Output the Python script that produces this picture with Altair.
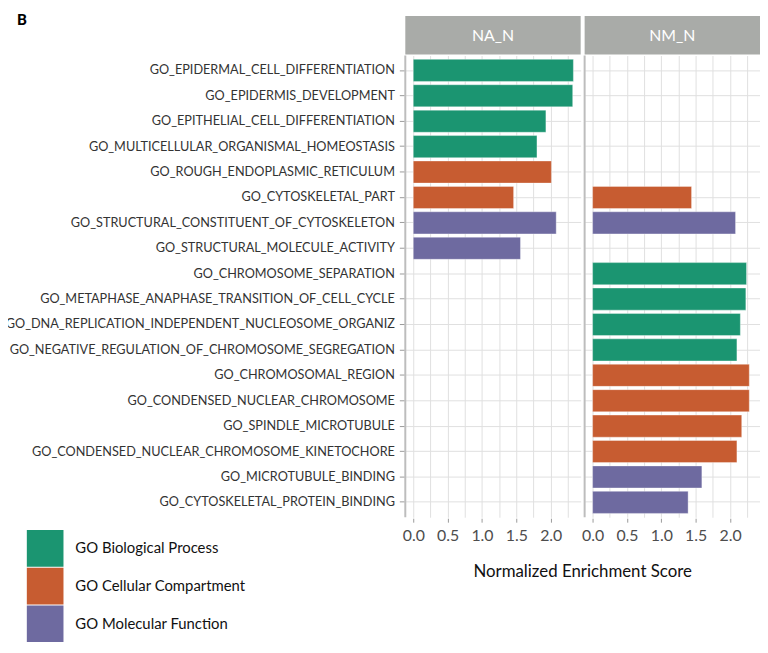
import altair as alt
import pandas as pd

terms = [
    "GO_EPIDERMAL_CELL_DIFFERENTIATION",
    "GO_EPIDERMIS_DEVELOPMENT",
    "GO_EPITHELIAL_CELL_DIFFERENTIATION",
    "GO_MULTICELLULAR_ORGANISMAL_HOMEOSTASIS",
    "GO_ROUGH_ENDOPLASMIC_RETICULUM",
    "GO_CYTOSKELETAL_PART",
    "GO_STRUCTURAL_CONSTITUENT_OF_CYTOSKELETON",
    "GO_STRUCTURAL_MOLECULE_ACTIVITY",
    "GO_CHROMOSOME_SEPARATION",
    "GO_METAPHASE_ANAPHASE_TRANSITION_OF_CELL_CYCLE",
    "GO_DNA_REPLICATION_INDEPENDENT_NUCLEOSOME_ORGANIZ",
    "GO_NEGATIVE_REGULATION_OF_CHROMOSOME_SEGREGATION",
    "GO_CHROMOSOMAL_REGION",
    "GO_CONDENSED_NUCLEAR_CHROMOSOME",
    "GO_SPINDLE_MICROTUBULE",
    "GO_CONDENSED_NUCLEAR_CHROMOSOME_KINETOCHORE",
    "GO_MICROTUBULE_BINDING",
    "GO_CYTOSKELETAL_PROTEIN_BINDING",
]
BP, CC, MF = "GO Biological Process", "GO Cellular Compartment", "GO Molecular Function"
term_category = [BP, BP, BP, BP, CC, CC, MF, MF, BP, BP, BP, BP, CC, CC, CC, CC, MF, MF]
na_n = [2.33, 2.32, 1.93, 1.80, 2.01, 1.46, 2.08, 1.56,
        None, None, None, None, None, None, None, None, None, None]
nm_n = [None, None, None, None, None, 1.44, 2.08, None,
        2.24, 2.23, 2.15, 2.10, 2.28, 2.28, 2.17, 2.10, 1.59, 1.39]
panels = ["NA_N", "NM_N"]
cat_domain = [BP, CC, MF]
cat_colors = ["#1b9571", "#c75c31", "#6e6aa0"]

rows = []
for panel, vals in zip(panels, [na_n, nm_n]):
    for t, c, v in zip(terms, term_category, vals):
        if v is not None:
            rows.append({"term": t, "category": c, "panel": panel, "nes": v})
df = pd.DataFrame(rows)

W, H = 177, 466
FONT = "Lato"
grid_vals = [i * 0.25 for i in range(0, 10)]

bars = alt.Chart().mark_bar(stroke="white", strokeWidth=0.6, strokeOpacity=0.6).encode(
    x=alt.X("nes:Q",
            scale=alt.Scale(domain=[-0.116, 2.436], nice=False, zero=False),
            axis=alt.Axis(values=grid_vals, grid=True, gridColor="#e0e0e0",
                          labelExpr="datum.value % 0.5 == 0 ? format(datum.value, '.1f') : ''",
                          labelOverlap=False, labelFontSize=16, labelColor="#4d4d4d",
                          labelFont=FONT, labelPadding=6, domain=False, tickColor="#9a9a9a",
                          tickSize=4,
                          tickOpacity=alt.ExprRef("datum.value % 0.5 == 0 ? 1 : 0"),
                          title=None)),
    x2=alt.datum(0),
    y=alt.Y("term:N", sort=terms,
            scale=alt.Scale(domain=terms, paddingInner=0.13, paddingOuter=0.15),
            axis=alt.Axis(grid=True, gridColor="#e0e0e0", domain=False, tickColor="#9a9a9a",
                          tickSize=5, labelFontSize=12.8, labelColor="#333333", labelFont=FONT,
                          labelPadding=5, labelLimit=0),
            title=None),
    color=alt.Color("category:N", scale=alt.Scale(domain=cat_domain, range=cat_colors),
                    legend=alt.Legend(title=None, orient="none", legendX=-382, legendY=479,
                                      symbolType="square", symbolSize=1369, symbolStrokeWidth=0,
                                      symbolOpacity=1, rowPadding=1, labelOffset=12,
                                      labelLimit=0,
                                      labelFontSize=15, labelFont=FONT, labelColor="#111111")),
)

edge = alt.Chart().transform_aggregate(n="count()", groupby=["panel"]).mark_rule(
    color="#bdbdbd", strokeWidth=2
).encode(x=alt.value(0), y=alt.value(0), y2=alt.value(H))

strip = alt.Chart().transform_aggregate(n="count()", groupby=["panel"]).mark_rect(
    color="#a9aba8"
).encode(x=alt.value(0), x2=alt.value(W), y=alt.value(-40), y2=alt.value(-1))

strip_text = alt.Chart().transform_aggregate(n="count()", groupby=["panel"]).mark_text(
    color="white", fontSize=16, font=FONT
).encode(text="panel:N", x=alt.value(W / 2), y=alt.value(-20))

layered = alt.layer(bars, edge, strip, strip_text).properties(width=W, height=H)

chart = layered.facet(
    column=alt.Column("panel:N", sort=panels,
                      header=alt.Header(labels=False, title="Normalized Enrichment Score",
                                        titleOrient="bottom", titleFont=FONT, titleFontSize=17,
                                        titleFontWeight="normal", titleColor="#111111",
                                        titlePadding=10)),
    data=df,
    spacing=3,
).properties(
    title=alt.TitleParams("B", anchor="start", frame="bounds", fontSize=15, fontWeight=900,
                          font=FONT, color="#000000", dx=12, offset=-12),
    padding={"left": -3, "top": 2, "right": 0, "bottom": 0},
).configure_view(stroke=None)

chart.save("out.html", embed_options={"renderer": "svg", "actions": False})
